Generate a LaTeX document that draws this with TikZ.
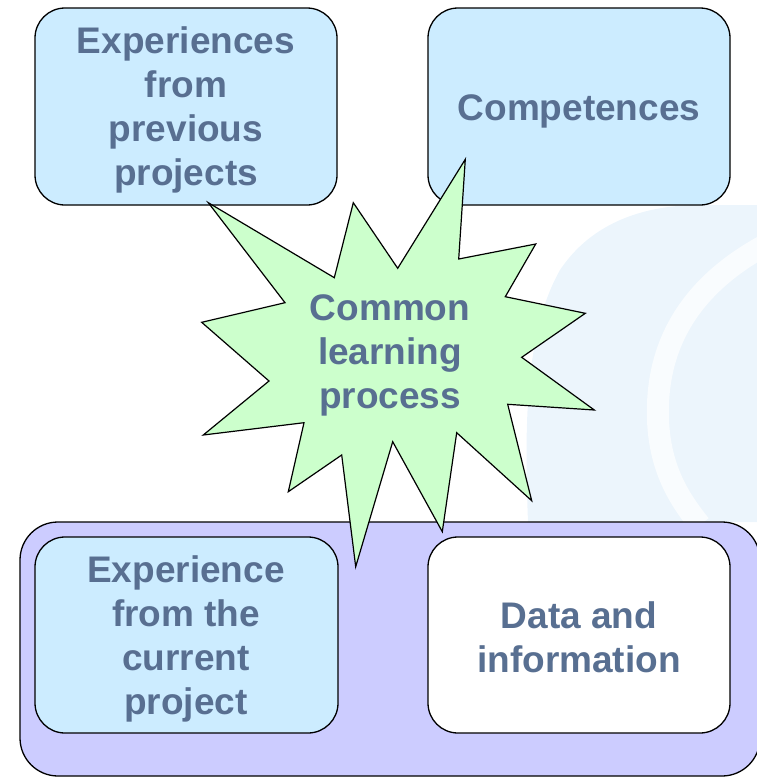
\documentclass[tikz,border=0pt]{standalone}
\usepackage{fontspec}
\setmainfont{Liberation Sans}
\definecolor{boxblue}{RGB}{204,236,255}
\definecolor{boxpurple}{RGB}{204,204,255}
\definecolor{burstgreen}{RGB}{204,255,204}
\definecolor{txt}{RGB}{88,111,145}
\definecolor{wmark}{RGB}{236,245,252}
\tikzset{
  rbox/.style={draw=black, line width=1.3pt, rounded corners=30pt},
  lbl/.style={text=txt, font=\fontsize{37}{44}\selectfont\bfseries, align=center, inner sep=0pt},
}
\begin{document}
\begin{tikzpicture}[x=1pt,y=-1pt]
\useasboundingbox (0,0) rectangle (757,777);
% faint watermark
\fill[wmark] (528,522) .. controls (524,420) and (526,330) .. (560,270) .. controls (590,225) and (640,205) .. (700,205) -- (757,205) -- (757,522) -- cycle;
\draw[white, line width=22pt, opacity=0.7] (775,240) .. controls (695,280) and (655,340) .. (658,420) .. controls (660,470) and (680,500) .. (700,525);
% purple container
\draw[rbox, fill=boxpurple, rounded corners=38pt] (20,522) rectangle (760,776);
% boxes
\draw[rbox, fill=boxblue] (35,8) rectangle (337,205);
\node[lbl] (prev) at (186,110) {Experiences\\from\\previous\\projects};
\draw[rbox, fill=boxblue] (428,8) rectangle (730,205);
\node[lbl] (comp) at (579,111) {Competences};
\draw[rbox, fill=boxblue] (35,537) rectangle (338,733);
\node[lbl] (curr) at (186,639) {Experience\\from the\\current\\project};
\draw[rbox, fill=white] (428,537) rectangle (730,733);
\node[lbl] (data) at (579,637) {Data and\\information};
% starburst
\draw[fill=burstgreen, line width=1.2pt, line join=miter]
 (208.3,202.7) -- (334.3,277.7) -- (353.3,202.7) -- (397.7,268.3) -- (465.3,159.3)
 -- (458.7,259) -- (535.7,244) -- (505.3,296.7) -- (585.3,313.3) -- (521.7,357.3)
 -- (594.3,410) -- (507.7,404.3) -- (531.7,500.7) -- (456.7,432.7) -- (442.3,531.7)
 -- (392.7,441.7) -- (355.7,566.7) -- (341.7,455) -- (288.3,491.7) -- (304,422.7)
 -- (203.3,435) -- (269,381) -- (201.7,322.3) -- (285,302.7) -- cycle;
\node[lbl] (burst) at (390,355) {Common\\learning\\process};
\end{tikzpicture}
\end{document}
